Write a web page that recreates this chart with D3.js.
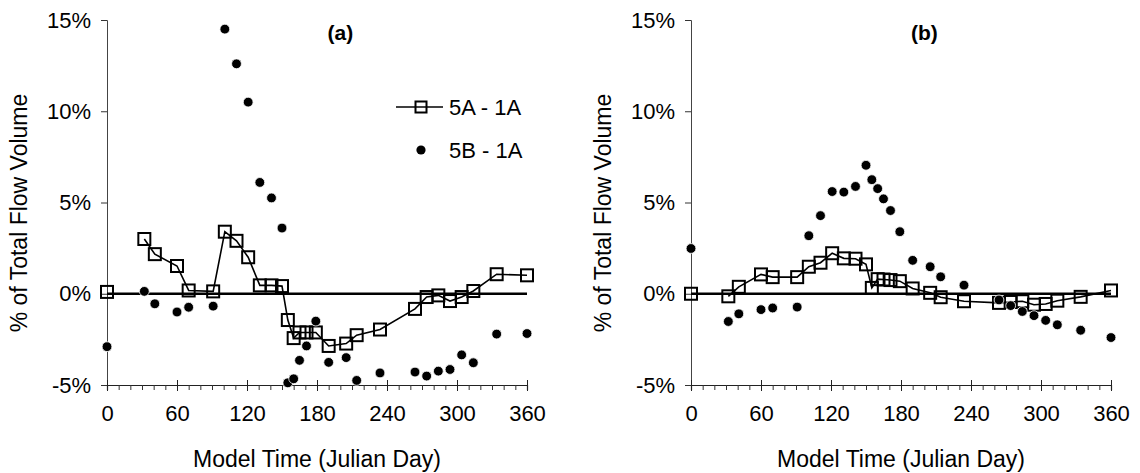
<!DOCTYPE html>
<html>
<head>
<meta charset="utf-8">
<script src="https://cdn.jsdelivr.net/npm/d3@7"></script>
<style>
  html, body { margin: 0; padding: 0; background: #fff; }
  svg { display: block; font-family: "Liberation Sans", Arial, Helvetica, sans-serif; }
</style>
</head>
<body>
<svg id="chart" width="1140" height="473"></svg>
<script>
// Model days at which the scenario differences were sampled
const days = [0, 32, 41, 60, 70, 91, 101, 111, 121, 131, 141, 150, 155, 160, 165, 171, 179,
              190, 205, 214, 234, 264, 274, 284, 294, 304, 314, 334, 360];

// Panel (a): difference in % of total flow volume
const a5A1A = [0.1, 3.0, 2.17, 1.52, 0.18, 0.13, 3.4, 2.9, 2.0, 0.46, 0.46, 0.42, -1.44, -2.43, -2.12,
               -2.12, -2.12, -2.86, -2.73, -2.27, -1.96, -0.83, -0.18, -0.09, -0.4, -0.18, 0.15, 1.07, 1.01];
const a5B1A = [-2.9, 0.13, -0.55, -1.0, -0.74, -0.68, 14.5, 12.6, 10.5, 6.1, 5.25, 3.6, -4.88, -4.66, -3.65,
               -2.86, -1.5, -3.76, -3.5, -4.75, -4.34, -4.29, -4.51, -4.24, -4.15, -3.35, -3.78, -2.21, -2.18];

// Panel (b)
const b5A1A = [0.0, -0.14, 0.38, 1.06, 0.91, 0.91, 1.48, 1.7, 2.22, 1.94, 1.92, 1.61, 0.32, 0.8, 0.78,
               0.75, 0.69, 0.29, 0.05, -0.19, -0.41, -0.5, -0.45, -0.41, -0.6, -0.56, -0.38, -0.17, 0.18];
const b5B1A = [2.48, -1.52, -1.1, -0.87, -0.78, -0.73, 3.18, 4.28, 5.6, 5.57, 5.88, 7.04, 6.25, 5.76, 5.2,
               4.56, 3.4, 1.83, 1.48, 0.93, 0.47, -0.34, -0.65, -0.97, -1.2, -1.46, -1.7, -2.0, -2.4];

const xTicks = [0, 60, 120, 180, 240, 300, 360];
const xMinorTicks = d3.range(0, 361, 10);
const yTicks = [-5, 0, 5, 10, 15];
const seriesNames = ["5A - 1A", "5B - 1A"];
const panelLabels = ["(a)", "(b)"];
const xTitle = "Model Time (Julian Day)";
const yTitle = "% of Total Flow Volume";

const svg = d3.select("#chart");
const y = d3.scaleLinear().domain([-5, 15]).range([385, 20]);

function drawPanel(x0, x1, sqVals, dotVals, label, withLegend) {
  const x = d3.scaleLinear().domain([0, 360]).range([x0, x1]);
  const g = svg.append("g");

  // left axis
  const yAxis = d3.axisLeft(y).tickValues(yTicks).tickSize(6).tickPadding(10)
    .tickFormat(d => d + "%");
  const ya = g.append("g").attr("transform", `translate(${x0},0)`).call(yAxis);
  ya.select(".domain").attr("stroke", "#444").attr("stroke-width", 1);
  ya.selectAll(".tick line").attr("stroke", "#333");
  ya.selectAll(".tick text").attr("font-size", 22).attr("fill", "#000")
    .attr("font-family", "'Liberation Sans', Arial, sans-serif");

  // bottom axis: minor ticks below, major ticks crossing the line
  const xb = g.append("g").attr("transform", `translate(0,${y(-5)})`);
  xb.call(d3.axisBottom(x).tickValues(xMinorTicks).tickSize(5).tickFormat(""));
  xb.select(".domain").attr("stroke", "#222").attr("stroke-width", 1.2);
  xb.selectAll(".tick line").attr("stroke", "#333");
  const xm = g.append("g").attr("transform", `translate(0,${y(-5)})`)
    .call(d3.axisBottom(x).tickValues(xTicks).tickSize(6).tickPadding(14).tickFormat(d3.format("d")));
  xm.select(".domain").remove();
  xm.selectAll(".tick line").attr("y1", -5).attr("stroke", "#222");
  xm.selectAll(".tick text").attr("font-size", 22).attr("fill", "#000")
    .attr("font-family", "'Liberation Sans', Arial, sans-serif");

  // zero reference line
  g.append("line")
    .attr("x1", x(0)).attr("x2", x(360))
    .attr("y1", y(0)).attr("y2", y(0))
    .attr("stroke", "#000").attr("stroke-width", 2.4);

  // axis titles
  g.append("text").attr("x", (x0 + x1) / 2).attr("y", 467)
    .attr("text-anchor", "middle").attr("font-size", 23).text(xTitle);
  g.append("text")
    .attr("transform", `translate(${x0 - 80},${213}) rotate(-90)`)
    .attr("text-anchor", "middle").attr("font-size", 23).text(yTitle);

  // panel letter
  g.append("text").attr("x", x(200)).attr("y", 40)
    .attr("text-anchor", "middle").attr("font-size", 21).attr("font-weight", "bold").text(label);

  // 5A - 1A: open squares, joined from the first simulated day onward
  const pts = days.map((d, i) => [d, sqVals[i]]);
  g.append("path").datum(pts)
    .attr("fill", "none").attr("stroke", "#000").attr("stroke-width", 1.6)
    .attr("d", d3.line().defined(d => d[0] > 0).x(d => x(d[0])).y(d => y(d[1])));
  const s = 12;
  g.selectAll("rect.sq").data(pts).join("rect").attr("class", "sq")
    .attr("x", d => x(d[0]) - s / 2).attr("y", d => y(d[1]) - s / 2)
    .attr("width", s).attr("height", s)
    .attr("fill", "none").attr("stroke", "#000").attr("stroke-width", 2);

  // 5B - 1A: filled dots
  const dots = days.map((d, i) => [d, dotVals[i]]);
  g.selectAll("circle.dt").data(dots).join("circle").attr("class", "dt")
    .attr("cx", d => x(d[0])).attr("cy", d => y(d[1])).attr("r", 4.9)
    .attr("fill", "#000").attr("stroke", "#fff").attr("stroke-width", 0.8);

  if (withLegend) {
    const lg = g.append("g");
    const lx = 421, ly1 = 107, ly2 = 150;
    lg.append("line").attr("x1", lx - 25).attr("x2", lx + 22).attr("y1", ly1).attr("y2", ly1)
      .attr("stroke", "#000").attr("stroke-width", 1.6);
    lg.append("rect").attr("x", lx - 5.5).attr("y", ly1 - 5.5).attr("width", 11).attr("height", 11)
      .attr("fill", "none").attr("stroke", "#000").attr("stroke-width", 2);
    lg.append("text").attr("x", lx + 28).attr("y", ly1).attr("dy", "0.36em")
      .attr("font-size", 22).text(seriesNames[0]);
    lg.append("circle").attr("cx", lx).attr("cy", ly2).attr("r", 4.6).attr("fill", "#000");
    lg.append("text").attr("x", lx + 28).attr("y", ly2).attr("dy", "0.36em")
      .attr("font-size", 22).text(seriesNames[1]);
  }
}

drawPanel(107, 527, a5A1A, a5B1A, panelLabels[0], true);
drawPanel(691, 1111, b5A1A, b5B1A, panelLabels[1], false);
</script>
</body>
</html>
